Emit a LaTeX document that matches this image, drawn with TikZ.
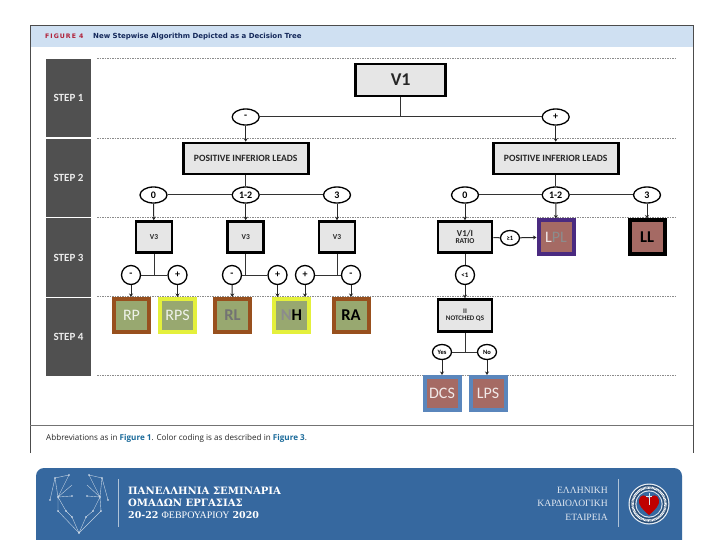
\documentclass[tikz,border=0pt]{standalone}
\usepackage{fontspec}
\setmainfont{Carlito}
\newfontfamily\headfont{DejaVu Sans}
\newfontfamily\notefont{Open Sans}
\newfontfamily\slabfont{DejaVu Serif}
\newfontfamily\romfont{Liberation Serif}
\definecolor{headblue}{HTML}{CFE0F2}
\definecolor{stepgrey}{HTML}{505050}
\definecolor{boxgrey}{HTML}{E6E6E6}
\definecolor{leafgreen}{HTML}{98A870}
\definecolor{leafred}{HTML}{A56A64}
\definecolor{rimbrown}{HTML}{98501E}
\definecolor{rimyellow}{HTML}{E4F03C}
\definecolor{rimpurple}{HTML}{4A2A80}
\definecolor{rimblue}{HTML}{5A86BC}
\definecolor{banner}{HTML}{36689F}
\definecolor{navy}{HTML}{14285A}
\definecolor{figred}{HTML}{B02038}
\definecolor{linkteal}{HTML}{1A6A9A}
\usetikzlibrary{shapes.geometric,arrows.meta,calc}
\tikzset{
 stepbox/.style={fill=stepgrey,text=white!92!black,minimum width=45pt,minimum height=78pt,inner sep=0pt,font=\bfseries\fontsize{11}{12}\selectfont},
 sep/.style={draw=black!45,line width=.8pt,dash pattern=on 1.5pt off 1pt},
 decide/.style={draw=black,line width=2.6pt,fill=boxgrey,inner sep=0pt,align=center,font=\bfseries\fontsize{9.6}{10}\selectfont,text=black!85},
 smalldecide/.style={decide,font=\bfseries\fontsize{7.5}{8.5}\selectfont},
 oval/.style={ellipse,draw=black,line width=1.3pt,fill=white,inner sep=0pt,font=\bfseries\fontsize{10}{10}\selectfont},
 wideoval/.style={oval,minimum width=27pt,minimum height=16pt},
 roundoval/.style={oval,minimum width=19pt,minimum height=19pt},
 smalloval/.style={oval,minimum width=19pt,minimum height=15pt,font=\bfseries\fontsize{6.5}{7}\selectfont},
 leaf/.style={line width=4pt,inner sep=0pt,minimum width=35pt,minimum height=33pt,font=\fontsize{16}{17}\selectfont},
 boldleaf/.style={leaf,font=\bfseries\fontsize{16.5}{17}\selectfont},
 branch/.style={draw=black!80,line width=1pt},
 arrowline/.style={draw=black!85,line width=1pt,-{Stealth[length=3.5pt,width=4pt]}},
 starline/.style={draw=white!70!banner,line width=.4pt},
}
\begin{document}
\begin{tikzpicture}[x=1pt,y=-1pt]
\useasboundingbox (0,0) rectangle (720,540);
\fill[white] (0,0) rectangle (720,540);
% header
\fill[headblue] (30,26) rectangle (693,47);
\draw[black!70,line width=1pt] (30,453) -- (30,26) -- (693,26) -- (693,453);
\draw[black!55,line width=1pt] (30,425) -- (693,425);
\node[anchor=west,inner sep=0pt,text=figred,font=\headfont\bfseries\fontsize{6.2}{7}\selectfont] (figno) at (45,36.5) {F\,I\,G\,U\,R\,E\,\,\,4};
\node[anchor=west,inner sep=0pt,text=navy,font=\headfont\bfseries\fontsize{7}{8}\selectfont] (title) at (93,36.5) {New Stepwise Algorithm Depicted as a Decision Tree};
% steps
\node[stepbox] (s1) at (68.5,98) {STEP 1};
\node[stepbox] (s2) at (68.5,178) {STEP 2};
\node[stepbox] (s3) at (68.5,257.5) {STEP 3};
\node[stepbox] (s4) at (68.5,337) {STEP 4};
\foreach \y in {58.5,138.5,217.5,296,375}
  \draw[sep] (97,\y) -- (676,\y);
% decisions
\node[decide,minimum width=90pt,minimum height=32pt,font=\bfseries\fontsize{18}{19}\selectfont] (v1) at (400.7,80) {V1};
\node[wideoval] (neg) at (245.7,117) {-};
\node[wideoval] (pos) at (555.7,117) {+};
\node[decide,minimum width=125pt,minimum height=31pt] (pl) at (245.7,158.5) {POSITIVE INFERIOR LEADS};
\node[decide,minimum width=125pt,minimum height=31pt] (pr) at (555.7,158.5) {POSITIVE INFERIOR LEADS};
\node[wideoval] (l0) at (153.5,195) {0};
\node[wideoval] (l12) at (245.7,195) {1-2};
\node[wideoval] (l3) at (337,195) {3};
\node[wideoval] (r0) at (465,195) {0};
\node[wideoval] (r12) at (555.7,195) {1-2};
\node[wideoval] (r3) at (647,195) {3};
\node[smalldecide,minimum width=36pt,minimum height=31pt] (a) at (154,237) {V3};
\node[smalldecide,minimum width=36pt,minimum height=31pt] (b) at (245.7,237) {V3};
\node[smalldecide,minimum width=36pt,minimum height=31pt] (c) at (337,237) {V3};
\node[smalldecide,minimum width=54pt,minimum height=31pt] (ratio) at (465,237) {{\fontsize{9}{9}\selectfont V1/I}\\[-1pt]RATIO};
\node[smalldecide,minimum width=54pt,minimum height=32pt,font=\bfseries\fontsize{7}{8}\selectfont] (ii) at (465,315.5) {II\\[-1pt]NOTCHED QS};
\node[roundoval] (am) at (131,275) {-};
\node[roundoval] (ap) at (177.5,275) {+};
\node[roundoval] (bm) at (232,275) {-};
\node[roundoval] (bp) at (277.5,275) {+};
\node[roundoval] (cp) at (305,275) {+};
\node[roundoval] (cm) at (351,275) {-};
\node[smalloval] (ge) at (510,238) {≥1};
\node[roundoval,font=\bfseries\fontsize{7}{7}\selectfont] (lt) at (465,275) {<1};
\node[smalloval] (yes) at (442,352) {Yes};
\node[smalloval] (no) at (487,352) {No};
% leaves
\node[leaf,draw=rimbrown,fill=leafgreen,text=white!85!leafgreen] (rp) at (131.5,315.5) {RP};
\node[leaf,draw=rimyellow,fill=leafgreen,text=white!85!leafgreen] (rps) at (177.5,315.5) {RPS};
\node[boldleaf,draw=rimbrown,fill=leafgreen,text=black!55] (rl) at (232.5,315.5) {RL};
\node[boldleaf,draw=rimyellow,fill=leafgreen] (nh) at (291.5,315.5) {\textcolor{black!45}{N}\textcolor{black}{H}};
\node[boldleaf,draw=rimbrown,fill=leafgreen,text=black] (ra) at (351,315.5) {RA};
\node[leaf,draw=rimpurple,fill=leafred] (lpl) at (556,237) {\textcolor{white!85!leafred}{L}\textcolor{black!45}{PL}};
\node[boldleaf,draw=black,fill=leafred,text=black] (ll) at (647,237) {LL};
\node[leaf,draw=rimblue,fill=leafred,text=white!85!leafred] (dcs) at (442,393.5) {DCS};
\node[leaf,draw=rimblue,fill=leafred,text=white!85!leafred] (lps) at (488,393.5) {LPS};
% connectors
\draw[branch] (v1) -- (v1.south |- neg);
\draw[branch] (neg) -- (pos);
\draw[branch] (pl) -- (l12);
\draw[branch] (pr) -- (r12);
\draw[branch] (l0) -- (l12); \draw[branch] (l12) -- (l3);
\draw[branch] (r0) -- (r12); \draw[branch] (r12) -- (r3);
\draw[branch] (a.south) -- (a.south |- am); \draw[branch] (am) -- (ap);
\draw[branch] (b.south) -- (b.south |- bm); \draw[branch] (bm) -- (bp);
\draw[branch] (c.south) -- (c.south |- cm); \draw[branch] (cp) -- (cm);
\draw[branch] (ii.south) -- (ii.south |- yes); \draw[branch] (yes) -- (no);
\draw[branch] (ratio) -- (ge);
\draw[branch] (ratio) -- (lt);
\draw[arrowline] (neg) -- (pl);
\draw[arrowline] (pos) -- (pr);
\draw[arrowline] (l0) -- (a);
\draw[arrowline] (l12) -- (b);
\draw[arrowline] (l3) -- (c);
\draw[arrowline] (r0) -- (ratio);
\draw[arrowline] (r12) -- (lpl);
\draw[arrowline] (r3) -- (ll);
\draw[arrowline] (am) -- (am |- rp.north);
\draw[arrowline] (ap) -- (rps);
\draw[arrowline] (bm) -- (rl);
\draw[arrowline] (bp) -- (bp |- nh.north);
\draw[arrowline] (cp) -- (cp |- nh.north);
\draw[arrowline] (cm) -- (ra);
\draw[arrowline] (ge) -- (lpl);
\draw[arrowline] (lt) -- (ii);
\draw[arrowline] (yes) -- (dcs);
\draw[arrowline] (no) -- (no |- lps.north);
% footnote
\node[anchor=west,inner sep=0pt,text=black!85,font=\notefont\fontsize{8.1}{9}\selectfont] (abbr) at (46,438.5) {Abbreviations as in \textcolor{linkteal}{\bfseries Figure 1}. Color coding is as described in \textcolor{linkteal}{\bfseries Figure 3}.};
% banner
\fill[banner] (36,540) -- (36,476) .. controls (36,471.6) and (39.6,468) .. (44,468) -- (674,468) .. controls (678.4,468) and (682,471.6) .. (682,476) -- (682,540) -- cycle;
\draw[white!60!banner,line width=.5pt] (118,479) -- (118,527);
\draw[white!60!banner,line width=.5pt] (618,479) -- (618,527);
\node[anchor=west,inner sep=0pt,text=white,font=\slabfont\bfseries\fontsize{10.1}{11}\selectfont] (t1) at (128,490.5) {ΠΑΝΕΛΛΗΝΙΑ ΣΕΜΙΝΑΡΙΑ};
\node[anchor=west,inner sep=0pt,text=white,font=\slabfont\bfseries\fontsize{10.1}{11}\selectfont] (t2) at (128,503) {ΟΜΑΔΩΝ ΕΡΓΑΣΙΑΣ};
\node[anchor=west,inner sep=0pt,text=white,font=\slabfont\fontsize{9.5}{11}\selectfont] (t3) at (128,515.5) {\textbf{20-22} {\romfont\fontsize{10}{11}\selectfont ΦΕΒΡΟΥΑΡΙΟΥ} \textbf{2020}};
\node[anchor=east,inner sep=0pt,text=white!85!banner,font=\romfont\fontsize{9.6}{11}\selectfont] (e1) at (608,490) {ΕΛΛΗΝΙΚΗ};
\node[anchor=east,inner sep=0pt,text=white!85!banner,font=\romfont\fontsize{9.6}{11}\selectfont] (e2) at (608,503) {ΚΑΡΔΙΟΛΟΓΙΚΗ};
\node[anchor=east,inner sep=0pt,text=white!85!banner,font=\romfont\fontsize{9.6}{11}\selectfont] (e3) at (608,517) {ΕΤΑΙΡΕΙΑ};
% heart constellation
\draw[starline] (69,475) -- (55,478) -- (50,500);
\draw[starline] (89,475) -- (102,478) -- (108,500);
\draw[starline] (55,478) -- (58,497) -- (69,475);
\draw[starline] (102,478) -- (100,497) -- (89,475);
\draw[starline] (72,485) -- (58,497) -- (72,496);
\draw[starline] (87,485) -- (100,497) -- (87,496);
\draw[starline] (58,511) -- (58,497) -- (66,511);
\draw[starline] (101,511) -- (100,497) -- (93,511);
\draw[starline] (58,511) -- (79,533) -- (101,511);
\draw[starline] (72,517) -- (79,533) -- (86,517);
\draw[starline] (66,511) -- (72,517);
\draw[starline] (93,511) -- (86,517);
\foreach \p in {(55,478),(69,475),(89,475),(102,478),(50,500),(58,497),(72,496),(87,496),(100,497),(108,500),(58,511),(66,511),(72,517),(86,517),(93,511),(101,511),(79,533)}
  \fill[white!85!banner] \p circle[radius=.9];
% logo
\fill[white!90!banner] (649,504) circle[radius=20.5];
\fill[banner!75!black] (649,504) circle[radius=19.3];
\draw[white,line width=2.4pt,dash pattern=on .7pt off .6pt] (649,504) circle[radius=16.5];
\fill[white!85!banner] (649,504) circle[radius=13.6];
\fill[banner] (649,504) circle[radius=12.6];
\fill[red!75!black] (649,515) .. controls (643,510) and (638,505) .. (639,500) .. controls (640,494) and (646,494) .. (649,499) .. controls (652,494) and (658,494) .. (659,500) .. controls (660,505) and (655,510) .. (649,515) -- cycle;
\draw[white!85!banner,line width=.6pt] (649,493) -- (649,505);
\draw[white!85!banner,line width=.6pt] (646,496) -- (652,496);
\end{tikzpicture}
\end{document}
